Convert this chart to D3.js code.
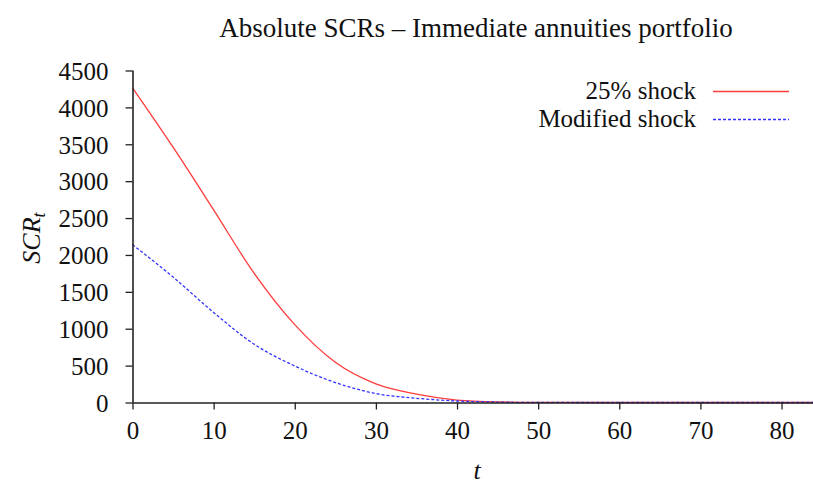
<!DOCTYPE html>
<html>
<head>
<meta charset="utf-8">
<script src="https://cdn.jsdelivr.net/npm/d3@7"></script>
<style>
  body { margin: 0; background: #fff; }
  svg text { font-family: "Liberation Serif", "DejaVu Serif", serif; fill: #111; }
</style>
</head>
<body>
<script>
var w = 813, h = 487;

// values
var years = [0, 5, 10, 15, 20, 25, 30, 35, 40, 45, 50, 55, 60, 70, 84];
var shock25 = [4265, 3460, 2610, 1750, 1055, 545, 252, 113, 33, 8, 2, 0.5, 0, 0, 0];
var modShock = [2140, 1700, 1220, 790, 495, 270, 121, 57, 20, 6, 1, 0.3, 0, 0, 0];
var xTicks = [0, 10, 20, 30, 40, 50, 60, 70, 80];
var yTicks = [0, 500, 1000, 1500, 2000, 2500, 3000, 3500, 4000, 4500];

var series = [
  {name: "25% shock", values: shock25, color: "#ff3b3b", dash: null},
  {name: "Modified shock", values: modShock, color: "#3333ff", dash: "3,2"}
];

var svg = d3.select("body").append("svg")
  .attr("width", w)
  .attr("height", h);

var x = d3.scaleLinear().domain([0, 84]).range([132.5, 814]);
var y = d3.scaleLinear().domain([0, 4500]).range([402.5, 70.5]);

// lines
var line = d3.line()
  .x(function (d) { return x(d[0]); })
  .y(function (d) { return y(d[1]); })
  .curve(d3.curveMonotoneX);

series.forEach(function (s) {
  svg.append("path")
    .datum(years.map(function (t, i) { return [t, s.values[i]]; }))
    .attr("d", line)
    .attr("fill", "none")
    .attr("stroke", s.color)
    .attr("stroke-width", 1.3)
    .attr("stroke-dasharray", s.dash);
});

// axes
var xAxis = svg.append("g")
  .attr("transform", "translate(0," + y(0) + ")")
  .call(d3.axisBottom(x).tickValues(xTicks).tickFormat(d3.format("d"))
    .tickSize(7).tickPadding(12));
var yAxis = svg.append("g")
  .attr("transform", "translate(" + x(0) + ",0)")
  .call(d3.axisLeft(y).tickValues(yTicks).tickFormat(d3.format("d"))
    .tickSize(7).tickPadding(17));

[xAxis, yAxis].forEach(function (g) {
  g.select(".domain").attr("stroke", "#222").attr("stroke-width", 1.6);
  g.selectAll(".tick line").attr("stroke", "#222").attr("stroke-width", 1.3);
  g.selectAll(".tick text")
    .attr("font-family", "Liberation Serif")
    .attr("font-size", 25)
    .attr("fill", "#111");
});
xAxis.select(".domain").attr("d", "M" + x(0) + ",0.5H813");
yAxis.select(".domain").attr("d", "M0.5," + y(0) + "V" + y(4500));
yAxis.selectAll(".tick text").attr("dy", "0.35em");

// title
svg.append("text")
  .attr("x", 476).attr("y", 37)
  .attr("text-anchor", "middle")
  .attr("font-size", 27)
  .text("Absolute SCRs \u2013 Immediate annuities portfolio");

// axis titles
svg.append("text")
  .attr("x", 477).attr("y", 479)
  .attr("text-anchor", "middle")
  .attr("font-size", 26)
  .attr("font-style", "italic")
  .text("t");

var yl = svg.append("text")
  .attr("transform", "translate(40,238) rotate(-90)")
  .attr("text-anchor", "middle")
  .attr("font-size", 26)
  .attr("font-style", "italic");
yl.append("tspan").text("SCR");
yl.append("tspan").attr("font-size", 18).attr("dy", 5).text("t");

// legend
var legend = svg.append("g");
series.forEach(function (s, i) {
  var ly = 91.5 + i * 28;
  legend.append("text")
    .attr("x", 696).attr("y", ly + 7)
    .attr("text-anchor", "end")
    .attr("font-size", 25)
    .text(s.name);
  legend.append("line")
    .attr("x1", 713).attr("x2", 789)
    .attr("y1", ly).attr("y2", ly)
    .attr("stroke", s.color)
    .attr("stroke-width", 1.3)
    .attr("stroke-dasharray", s.dash);
});
</script>
</body>
</html>
